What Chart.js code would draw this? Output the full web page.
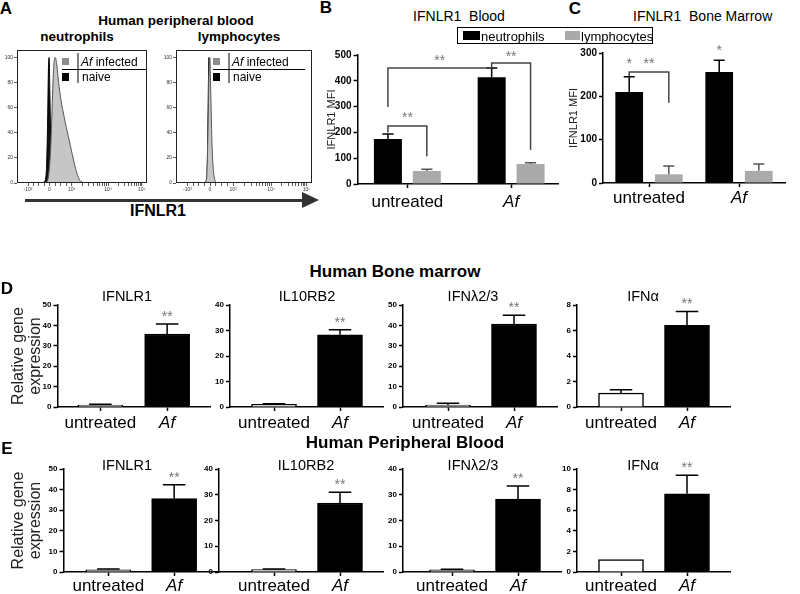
<!DOCTYPE html>
<html>
<head>
<meta charset="utf-8">
<script src="https://cdn.jsdelivr.net/npm/chart.js@4.4.1/dist/chart.umd.min.js"></script>
<style>
  body { margin: 0; background: #fff; }
  #fig { position: relative; width: 800px; height: 594px; overflow: hidden; font-family: "Liberation Sans", Arial, Helvetica, sans-serif; color: #000; }
  #fig canvas { position: absolute; }
  .t { position: absolute; white-space: pre; line-height: 1; transform: translate(-50%, -50%); }
  .l { position: absolute; white-space: pre; line-height: 1; transform: translate(0, -50%); }
  .sq { position: absolute; }
</style>
</head>
<body>
<div id="fig"></div>
<script>
// ---- data ----
// panel A: flow histograms (x in display units of the biexponential axis, y = % of max)
const histXTicks = [8.5, 25, 42, 70, 96];
const histXLabels = ['-10³', '0', '10³', '10⁴', '10⁵'];
const histYTicks = [0, 20, 40, 60, 80, 100];
const neutInfX = [22, 24, 26, 27.5, 28.5, 29.5, 30.5, 32, 34, 36, 38, 41, 44, 46, 48.5, 52];
const neutInfY = [0, 4, 30, 75, 96, 100, 95, 80, 65, 54, 44, 30, 16, 8, 2, 0];
const neutNaiveX = [19, 21, 22.5, 23.5, 24.2, 24.7, 25.3, 26, 27, 28.5, 31];
const neutNaiveY = [0, 1, 8, 45, 92, 100, 70, 30, 8, 1, 0];
const lymphInfX = [21, 22.5, 23.5, 24.3, 24.9, 25.6, 26.5, 27.5, 28.7, 30];
const lymphInfY = [0, 4, 40, 90, 100, 70, 30, 10, 2, 0];
const lymphNaiveX = [21, 22.5, 23.3, 23.9, 24.3, 24.8, 25.5, 26.5, 28];
const lymphNaiveY = [0, 3, 30, 85, 100, 60, 15, 3, 0];

// panels B and C: IFNLR1 MFI
const groups = ['untreated', 'Af'];
const bloodNeut = [174, 414];
const bloodNeutErr = [20, 36];
const bloodLymph = [50, 78];
const bloodLymphErr = [7, 4];
const marrowNeut = [210, 256];
const marrowNeutErr = [35, 27];
const marrowLymph = [20, 28];
const marrowLymphErr = [19, 16];

// panels D and E: relative gene expression
const genes = ['IFNLR1', 'IL10RB2', 'IFNλ2/3', 'IFNα'];
const bmExpr = [[1.0, 35.8], [1.0, 28.3], [1.0, 40.7], [1.1, 6.4]];
const bmErr = [[0.3, 4.9], [0.3, 2.0], [0.8, 4.3], [0.25, 1.1]];
const bmYMax = [50, 40, 50, 8];
const bmYStep = [10, 10, 10, 2];
const pbExpr = [[1.0, 35.6], [0.9, 26.8], [0.8, 28.3], [1.2, 7.6]];
const pbErr = [[0.5, 6.7], [0.3, 4.2], [0.3, 5.1], [0, 1.8]];
const pbYMax = [50, 40, 40, 10];
const pbYStep = [10, 10, 10, 2];

const FONT = '"Liberation Sans", Arial, Helvetica, sans-serif';
Chart.defaults.font.family = FONT;
Chart.defaults.color = '#000';
Chart.defaults.animation = false;

const fig = document.getElementById('fig');

function place(left, top, width, height) {
    const c = document.createElement('canvas');
    c.width = width; c.height = height;
    c.style.left = left + 'px'; c.style.top = top + 'px';
    c.style.width = width + 'px'; c.style.height = height + 'px';
    fig.appendChild(c);
    return c;
}

function text(str, x, y, css, cls) {
    const d = document.createElement('div');
    d.className = cls || 't';
    d.style.left = x + 'px'; d.style.top = y + 'px';
    d.style.cssText += css || '';
    d.innerHTML = str;
    fig.appendChild(d);
}

const xy = (xs, ys) => xs.map((x, i) => ({ x: x, y: ys[i] }));

// error bars, brackets and asterisks, all placed through the chart scales
function marks(spec) {
    return {
        id: 'marks',
        afterDatasetsDraw(chart) {
            const ctx = chart.ctx, ys = chart.scales.y;
            const star = (s, x, yv, px) => {
                ctx.font = '14px ' + FONT;
                ctx.fillStyle = '#777';
                ctx.textAlign = 'center';
                ctx.textBaseline = 'alphabetic';
                ctx.fillText(s, x, ys.getPixelForValue(yv) + (px || 0) + 14 * 0.57);
            };
            ctx.save();
            ctx.lineWidth = 1.5;
            (spec.errors || []).forEach((errs, di) => {
                const meta = chart.getDatasetMeta(di);
                meta.data.forEach((bar, j) => {
                    if (!errs[j]) return;
                    const v = chart.data.datasets[di].data[j].y;
                    const top = ys.getPixelForValue(v + errs[j]);
                    const cap = bar.width * spec.cap / 2;
                    ctx.strokeStyle = spec.errColors[di];
                    ctx.beginPath();
                    ctx.moveTo(bar.x, bar.y);
                    ctx.lineTo(bar.x, top);
                    ctx.moveTo(bar.x - cap, top);
                    ctx.lineTo(bar.x + cap, top);
                    ctx.stroke();
                });
            });
            (spec.brackets || []).forEach(b => {
                const p1 = chart.getDatasetMeta(b.from[1]).data[b.from[0]];
                const p2 = chart.getDatasetMeta(b.to[1]).data[b.to[0]];
                const yy = ys.getPixelForValue(b.y);
                ctx.strokeStyle = '#444';
                ctx.beginPath();
                ctx.moveTo(p1.x, ys.getPixelForValue(b.dropL));
                ctx.lineTo(p1.x, yy);
                ctx.lineTo(p2.x, yy);
                ctx.lineTo(p2.x, ys.getPixelForValue(b.dropR));
                ctx.stroke();
                star(b.label, (p1.x + p2.x) / 2, b.labelY);
            });
            (spec.stars || []).forEach(s => {
                const p = chart.getDatasetMeta(s.at[1]).data[s.at[0]];
                star(s.text, p.x, s.y, s.px);
            });
            ctx.restore();
        }
    };
}

// frame + little legend of the histograms
function histFrame(offset) {
    return {
        id: 'histFrame',
        afterDraw(chart) {
            const a = chart.chartArea, ctx = chart.ctx;
            const x0 = a.left + offset;
            ctx.save();
            ctx.strokeStyle = '#222';
            ctx.lineWidth = 1;
            ctx.strokeRect(a.left + 0.5, a.top + 0.5, a.right - a.left - 1, a.bottom - a.top - 1);
            ctx.fillStyle = '#8c8c8c';
            ctx.fillRect(x0, a.top + 8, 7, 7);
            ctx.fillStyle = '#000';
            ctx.fillRect(x0, a.top + 23, 7, 8);
            ctx.strokeStyle = '#000';
            ctx.beginPath();
            ctx.moveTo(x0 + 16, a.top + 3); ctx.lineTo(x0 + 16, a.top + 33);
            ctx.moveTo(x0, a.top + 19.5); ctx.lineTo(Math.min(x0 + 92, a.right - 1), a.top + 19.5);
            ctx.stroke();
            ctx.textBaseline = 'alphabetic';
            ctx.textAlign = 'left';
            ctx.font = 'italic 12px ' + FONT;
            ctx.fillText('Af', x0 + 19, a.top + 16);
            const w = ctx.measureText('Af').width;
            ctx.font = '12px ' + FONT;
            ctx.fillText(' infected', x0 + 19 + w, a.top + 16);
            ctx.fillText('naive', x0 + 20, a.top + 31);
            ctx.restore();
        }
    };
}

function histChart(left, right, infX, infY, naiveX, naiveY, legendOffset) {
    const top = 49, bottom = 183, yw = 12;
    const cv = place(left - yw, top - 3, right - left + yw + 6, bottom - top + 3 + 16);
    const minor = [];
    for (let d = 0; d < 2; d++) {
        for (let k = 2; k < 10; k++) {
            minor.push(histXTicks[2 + d] + Math.log10(k) * (histXTicks[3 + d] - histXTicks[2 + d]));
        }
    }
    for (let k = 1; k < 4; k++) {
        minor.push(histXTicks[0] + k * (histXTicks[1] - histXTicks[0]) / 4);
        minor.push(histXTicks[1] + k * (histXTicks[2] - histXTicks[1]) / 4);
    }
    const allTicks = histXTicks.concat(minor).sort((a, b) => a - b);
    new Chart(cv, {
        type: 'line',
        data: {
            datasets: [
                { data: xy(infX, infY), fill: 'origin', backgroundColor: '#c6c6c6', borderColor: '#555', borderWidth: 1, pointRadius: 0, cubicInterpolationMode: 'monotone' },
                { data: xy(naiveX, naiveY), fill: 'origin', backgroundColor: '#111', borderColor: '#000', borderWidth: 1, pointRadius: 0, cubicInterpolationMode: 'monotone' }
            ]
        },
        options: {
            responsive: false,
            layout: { padding: { top: 3, right: 6, left: 0, bottom: 0 } },
            plugins: { legend: { display: false }, tooltip: { enabled: false } },
            scales: {
                x: {
                    type: 'linear', min: 0, max: 100,
                    afterBuildTicks: s => { s.ticks = allTicks.map(v => ({ value: v })); },
                    afterFit: s => { s.height = 16; },
                    ticks: {
                        autoSkip: false, maxRotation: 0, padding: 1, color: '#333',
                        font: { size: 5 },
                        callback: v => { const i = histXTicks.indexOf(v); return i >= 0 ? histXLabels[i] : ''; }
                    },
                    grid: { drawOnChartArea: false, tickLength: 3, tickColor: '#333', tickWidth: 0.8 },
                    border: { display: false }
                },
                y: {
                    min: 0, max: 106,
                    afterBuildTicks: s => { s.ticks = histYTicks.map(v => ({ value: v })); },
                    afterFit: s => { s.width = yw; },
                    ticks: { padding: 1, color: '#333', font: { size: 5 } },
                    grid: { drawOnChartArea: false, tickLength: 3, tickColor: '#333', tickWidth: 0.8 },
                    border: { display: false }
                }
            }
        },
        plugins: [histFrame(legendOffset)]
    });
}

histChart(17, 147, neutInfX, neutInfY, neutNaiveX, neutNaiveY, 45);
histChart(176, 312, lymphInfX, lymphInfY, lymphNaiveX, lymphNaiveY, 37);

// shared axis options for the bar panels
function catAxis(g, pad) {
    return {
        type: 'linear', min: g.min, max: g.max, offset: false,
        afterBuildTicks: s => { s.ticks = groups.map((c, i) => ({ value: i })); },
        afterFit: s => { s.height = 32; },
        ticks: {
            autoSkip: false, maxRotation: 0, padding: pad, color: '#000',
            callback: v => groups[v],
            font: c => ({ size: 17, style: c.tick && c.tick.value === 1 ? 'italic' : 'normal' })
        },
        grid: { offset: false, drawOnChartArea: false, tickLength: 4, tickColor: '#000', tickWidth: 1.5 },
        border: { display: true, color: '#000', width: 1.5 }
    };
}

function valAxis(max, step, yw, fontSize, title) {
    return {
        min: 0, max: max,
        afterFit: s => { s.width = yw; },
        ticks: { stepSize: step, padding: 2, color: '#000', font: { size: fontSize, weight: 'bold' } },
        grid: { drawOnChartArea: false, tickLength: 4, tickColor: '#000', tickWidth: 1.5 },
        border: { display: true, color: '#000', width: 1.5 },
        title: title
    };
}

// panels B and C: grouped bars
function mfiChart(geo, neut, neutErr, lymph, lymphErr, yMax, catPct, barPct, brackets, stars, pad) {
    const unit = geo.c1 - geo.c0;
    const padTop = 15, xh = 32;
    const cv = place(geo.axis - geo.yw, geo.top - padTop, geo.right - geo.axis + geo.yw + 6, geo.bottom - geo.top + padTop + xh);
    new Chart(cv, {
        type: 'bar',
        data: {
            datasets: [
                { label: 'neutrophils', data: groups.map((g, i) => ({ x: i, y: neut[i] })), backgroundColor: '#000', categoryPercentage: catPct, barPercentage: barPct },
                { label: 'lymphocytes', data: groups.map((g, i) => ({ x: i, y: lymph[i] })), backgroundColor: '#aaa', categoryPercentage: catPct, barPercentage: barPct }
            ]
        },
        options: {
            responsive: false,
            layout: { padding: { top: padTop, right: 6, left: 0, bottom: 0 } },
            plugins: { legend: { display: false }, tooltip: { enabled: false } },
            scales: {
                x: catAxis({ min: -(geo.c0 - geo.axis) / unit, max: 1 + (geo.right - geo.c1) / unit }, pad),
                y: valAxis(yMax, 100, geo.yw, 10, { display: true, text: 'IFNLR1 MFI', font: { size: 11 }, padding: 0, color: '#222' })
            }
        },
        plugins: [marks({ errors: [neutErr, lymphErr], errColors: ['#000', '#555'], cap: 0.4, brackets: brackets, stars: stars })]
    });
}

mfiChart({ axis: 357, yw: 32.5, top: 55, bottom: 184, c0: 407, c1: 511, right: 558 },
    bloodNeut, bloodNeutErr, bloodLymph, bloodLymphErr, 500, 0.75, 0.72,
    [
        { from: [0, 0], to: [0, 1], y: 225, dropL: 200, dropR: 108, label: '**', labelY: 272 },
        { from: [0, 0], to: [1, 0], y: 450, dropL: 298, dropR: 450, label: '**', labelY: 492 },
        { from: [1, 0], to: [1, 1], y: 469, dropL: 450, dropR: 132, label: '**', labelY: 508 }
    ], [], 4);

mfiChart({ axis: 603, yw: 36, top: 53, bottom: 183, c0: 649, c1: 739, right: 785 },
    marrowNeut, marrowNeutErr, marrowLymph, marrowLymphErr, 300, 0.88, 0.7,
    [
        { from: [0, 0], to: [0, 1], y: 256, dropL: 247, dropR: 185, label: '**', labelY: 284 }
    ],
    [
        { at: [0, 0], y: 284, text: '*' },
        { at: [1, 0], y: 314, text: '*' }
    ], 1);

// panels D and E: single-series bars
function geneChart(row, i, expr, err, yMax, yStep) {
    const axis = row.axes[i], c0 = row.centers[i][0], c1 = row.centers[i][1];
    const unit = c1 - c0, right = c1 + 43;
    const yw = i === 0 ? axis - 9.5 : 24;
    const padTop = 22, xh = 32;
    const cv = place(axis - yw, row.top - padTop, right - axis + yw + 6, row.bottom - row.top + padTop + xh);
    const title = i === 0
        ? { display: true, text: ['Relative gene', 'expression'], font: { size: 16, lineHeight: 1.06 }, padding: 0, color: '#222' }
        : { display: false };
    new Chart(cv, {
        type: 'bar',
        data: {
            datasets: [{
                data: groups.map((g, k) => ({ x: k, y: expr[k] })),
                backgroundColor: ['#fff', '#000'],
                borderColor: '#000',
                borderWidth: 1.5,
                barThickness: 45
            }]
        },
        options: {
            responsive: false,
            layout: { padding: { top: padTop, right: 6, left: 0, bottom: 0 } },
            plugins: { legend: { display: false }, tooltip: { enabled: false } },
            scales: {
                x: catAxis({ min: -(c0 - axis) / unit, max: 1 + (right - c1) / unit }, row.pad),
                y: valAxis(yMax, yStep, yw, 8, title)
            }
        },
        plugins: [marks({
            errors: [err], errColors: ['#000'], cap: 0.5,
            stars: [{ at: [1, 0], y: expr[1] + err[1], px: -11, text: '**' }]
        })]
    });
}

const rowD = { top: 305, bottom: 407, pad: 2, axes: [57, 230, 403, 577], centers: [[100, 167], [274, 340], [448, 514], [621, 687]] };
const rowE = { top: 469, bottom: 572, pad: 0, axes: [63, 219, 403, 577], centers: [[108, 174], [274, 340], [452, 518], [621, 687]] };
genes.forEach((g, i) => {
    geneChart(rowD, i, bmExpr[i], bmErr[i], bmYMax[i], bmYStep[i]);
    geneChart(rowE, i, pbExpr[i], pbErr[i], pbYMax[i], pbYStep[i]);
});

// ---- text, legend box and arrow ----
const bold17 = 'font-weight:bold;font-size:17px;';
text('A', 6, 8, bold17);
text('Human peripheral blood', 176, 21, 'font-weight:bold;font-size:13.5px;');
text('neutrophils', 77, 37, 'font-weight:bold;font-size:13.5px;');
text('lymphocytes', 239, 37, 'font-weight:bold;font-size:13.5px;');
text('IFNLR1', 158, 211, 'font-weight:bold;font-size:16px;');
text('B', 326, 7, bold17);
text('IFNLR1  Blood', 459, 16, 'font-size:14px;');
text('C', 575, 8, bold17);
text('IFNLR1  Bone Marrow', 633, 16, 'font-size:14px;', 'l');
text('Human Bone marrow', 395, 271, bold17);
text('D', 7, 288, bold17);
text('Human Peripheral Blood', 405, 442, bold17);
text('E', 7, 448, bold17);
const titleXD = [127, 307, 473, 643], titleXE = [127, 306, 473, 643];
genes.forEach((g, i) => {
    text(g, titleXD[i], 296, 'font-size:14.5px;');
    text(g, titleXE[i], 465, 'font-size:14.5px;');
});

// legend of panel B
const lg = document.createElement('div');
lg.className = 'sq';
lg.style.cssText += 'left:457px;top:27px;width:194px;height:15px;border:1.5px solid #000;';
fig.appendChild(lg);
const sq = (x, y, w, h, col) => {
    const d = document.createElement('div');
    d.className = 'sq';
    d.style.cssText += `left:${x}px;top:${y}px;width:${w}px;height:${h}px;background:${col};`;
    fig.appendChild(d);
};
sq(463, 31, 17, 9, '#000');
text('neutrophils', 481, 35.5, 'font-size:13px;', 'l');
sq(565, 31, 15, 9, '#aaa');
text('lymphocytes', 581, 35.5, 'font-size:13px;', 'l');

// arrow under panel A
sq(25, 198.5, 279, 3, '#333');
const head = document.createElement('div');
head.className = 'sq';
head.style.cssText += 'left:302px;top:192px;width:0;height:0;border-left:17px solid #333;border-top:8px solid transparent;border-bottom:8px solid transparent;';
fig.appendChild(head);
</script>
</body>
</html>
